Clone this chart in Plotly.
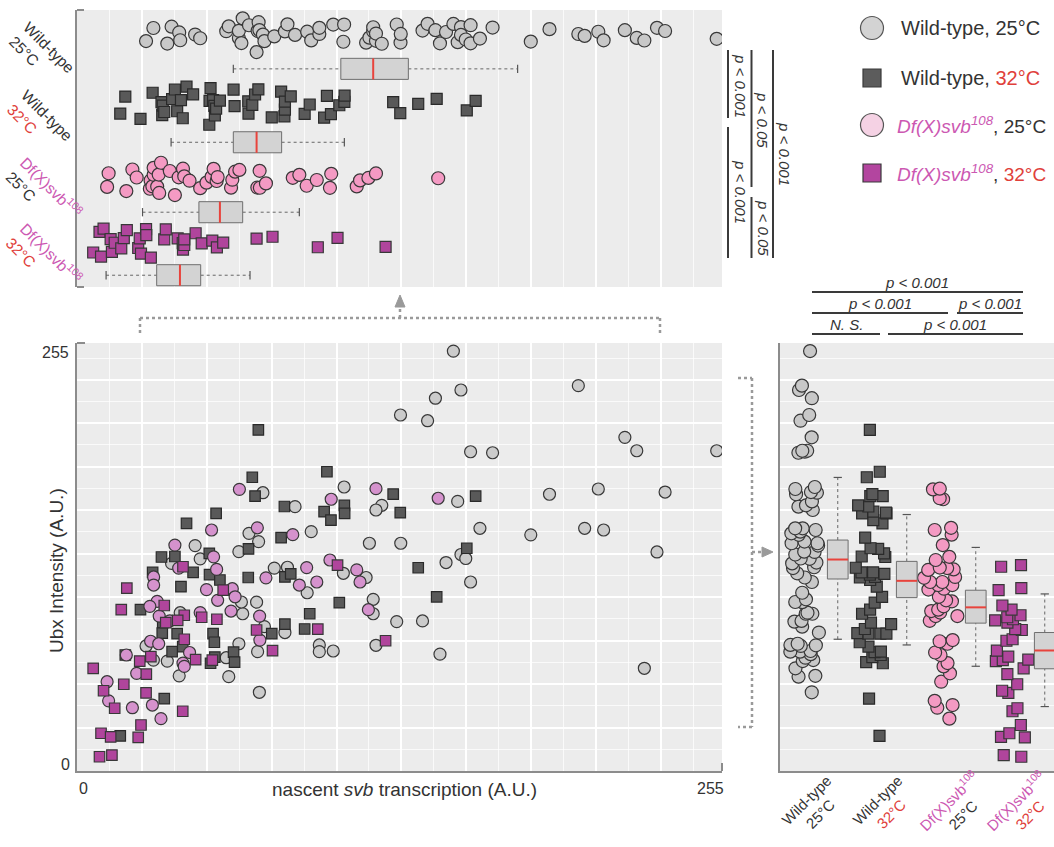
import plotly.graph_objects as go

# ---------------- data (A.U.) ----------------
wt25_svb = [148.8, 151.8, 141.7, 127.9, 138.6, 198.2, 216.6, 221.3, 252.9, 155.6,
            164.3, 186.8, 206.1, 232.5, 150.5, 120.5, 159.3, 179.4, 200.7, 208.2,
            128.0, 229.3, 145.9, 151.8, 153.7, 155.6, 126.4, 136.6, 143.5, 224.3,
            105.6, 118.2, 86.2, 73.5, 115.6, 92.6, 68.0, 71.8, 64.0, 46.7,
            48.7, 37.4, 78.0, 83.2, 105.3, 114.3, 91.0, 117.1, 117.1, 71.0,
            65.5, 65.0, 40.8, 64.0, 71.4, 74.1, 82.2, 95.8, 95.8, 101.3,
            118.2, 27.3, 30.2, 35.7, 40.4, 60.0, 59.0, 72.1]
wt25_ubx = [250.2, 227.0, 222.1, 212.1, 208.7, 229.6, 198.8, 190.8, 190.8, 190.2,
            189.6, 164.9, 168.0, 166.2, 160.6, 158.3, 144.6, 140.7, 144.6, 143.6,
            135.7, 130.5, 124.2, 129.0, 126.6, 112.6, 89.0, 89.4, 69.6, 61.2,
            169.2, 155.5, 157.5, 165.8, 135.7, 142.6, 141.6, 136.7, 130.7, 134.3,
            126.4, 123.7, 120.9, 121.4, 117.8, 115.3, 106.2, 102.3, 93.7, 100.6,
            93.7, 100.7, 94.3, 75.8, 71.1, 86.0, 82.5, 75.1, 71.1, 71.5,
            74.9, 74.5, 66.1, 65.5, 56.7, 56.2, 67.5, 46.9]

wt32_svb = [71.7, 69.3, 70.4, 98.8, 82.0, 55.0, 43.3, 97.7, 100.4, 105.7,
            105.8, 125.0, 127.8, 80.7, 67.8, 33.4, 38.7, 52.3, 45.9, 29.9,
            52.4, 56.5, 67.7, 82.2, 41.1, 103.7, 25.1, 92.0, 33.9, 82.2,
            33.7, 39.6, 90.0, 77.0, 53.8, 54.3, 41.8, 37.6, 54.5, 52.8,
            61.9, 62.3, 34.5, 17.1, 157.6, 154.1, 134.9, 142.2, 19.1, 84.5]
wt32_ubx = [203.2, 175.0, 163.8, 178.3, 157.6, 153.5, 147.5, 154.5, 149.5, 158.2,
            153.5, 165.0, 153.9, 139.0, 132.3, 127.5, 127.8, 129.7, 118.3, 118.3,
            117.0, 113.8, 115.3, 115.6, 109.8, 100.3, 96.1, 93.7, 88.4, 87.5,
            82.2, 81.8, 84.6, 81.8, 81.8, 76.7, 74.1, 71.1, 67.9, 64.2,
            70.8, 64.9, 43.1, 20.9, 163.8, 132.7, 121.1, 103.8, 69.1, 117.5]

df25_svb = [64.2, 100.5, 118.2, 53.2, 71.3, 85.3, 38.7, 40.2, 54.0, 55.2,
            30.3, 30.3, 51.2, 61.4, 62.5, 55.6, 60.9, 48.7, 31.7, 28.8,
            32.5, 36.7, 72.2, 72.3, 74.7, 90.8, 87.9, 94.8, 100.0, 110.6,
            111.9, 115.2, 29.1, 32.3, 44.5, 41.9, 42.4, 19.5, 23.6, 11.9,
            12.5, 21.9, 29.8, 33.2, 142.8]
df25_ubx = [167.8, 161.9, 168.2, 143.6, 144.9, 140.8, 134.6, 120.9, 127.6, 120.1,
            115.6, 110.8, 108.1, 108.6, 103.8, 101.7, 95.3, 94.4, 101.1, 98.1,
            92.3, 89.5, 92.3, 78.0, 115.1, 121.2, 110.8, 112.6, 125.7, 119.8,
            112.6, 96.1, 77.3, 75.8, 70.6, 64.3, 62.3, 69.1, 58.2, 53.2,
            41.8, 37.7, 39.3, 31.2, 162.5]

df32_svb = [103.0, 57.8, 19.7, 17.5, 34.5, 42.4, 35.1, 39.8, 49.3, 55.3,
            42.4, 71.0, 77.3, 95.2, 122.0, 46.9, 53.5, 29.2, 24.8, 27.4,
            6.4, 18.5, 10.5, 14.9, 27.3, 41.8, 25.3, 9.5, 13.3, 24.2,
            8.9, 13.8, 41.9]
df32_ubx = [122.6, 107.8, 108.9, 96.1, 98.6, 92.8, 88.4, 89.8, 91.6, 90.4,
            78.5, 84.0, 71.7, 84.5, 77.6, 66.3, 66.1, 68.1, 65.5, 57.7,
            61.2, 51.7, 47.8, 37.4, 46.6, 35.6, 27.4, 22.5, 20.3, 20.0,
            8.5, 9.5, 121.7]

# box statistics shown in the figure: [low whisker, Q1, median, Q3, high whisker]
svb_box_stats = [[61.8, 104.3, 117.1, 131.0, 174.2],
                 [37.2, 61.8, 71.0, 80.9, 105.7],
                 [25.9, 48.2, 56.5, 65.5, 87.9],
                 [11.5, 31.5, 40.7, 48.9, 68.4]]
ubx_box_stats = [[78.5, 114.4, 126.0, 137.6, 174.9],
                 [75.1, 103.3, 113.3, 124.9, 152.8],
                 [62.4, 88.1, 97.5, 107.7, 133.2],
                 [38.4, 60.9, 71.8, 82.5, 105.5]]

svb_groups = [wt25_svb, wt32_svb, df25_svb, df32_svb]
ubx_groups = [wt25_ubx, wt32_ubx, df25_ubx, df32_ubx]

# ---------------- styling / layout helpers ----------------
W, H = 1054, 847
FONT = "Liberation Sans, Arial, Helvetica, sans-serif"
TXT = "#333333"
RED = "#e0403a"
MAG = "#cc58b2"
BG = "#ececec"


def px(x):
    return x / W


def py(y):
    return 1 - y / H


EDGE = "#383838"
STRIP_STYLE = [
    dict(symbol="circle", size=13, color="#c8c8c8", line=dict(color=EDGE, width=1.2)),
    dict(symbol="square", size=11, color="#595959", line=dict(color="#2a2a2a", width=1.2)),
    dict(symbol="circle", size=13, color="#f49ac3", line=dict(color=EDGE, width=1.2)),
    dict(symbol="square", size=11, color="#b0459c", line=dict(color=EDGE, width=1.2)),
]
MAIN_STYLE = [
    dict(symbol="circle", size=12, color="#cbcbcb", line=dict(color=EDGE, width=1.2)),
    dict(symbol="square", size=10.5, color="#595959", line=dict(color="#2a2a2a", width=1.2)),
    dict(symbol="circle", size=12, color="#d592cd", line=dict(color=EDGE, width=1.2)),
    dict(symbol="square", size=10.5, color="#b0459c", line=dict(color=EDGE, width=1.2)),
]

TOP_PTS_POS = [0.36, 1.39, 2.47, 3.37]
TOP_PTS_WIDTH = [0.56, 0.66, 0.6, 0.52]
TOP_BOX_POS = [0.85, 1.91, 2.92, 3.83]
RIGHT_PTS_POS = [0, 1, 2, 3]
RIGHT_PTS_WIDTH = [0.62, 0.62, 0.62, 0.62]
RIGHT_BOX_POS = [0.46, 1.46, 2.46, 3.46]

fig = go.Figure()

# ---------------- main scatter ----------------
for i in range(4):
    fig.add_trace(go.Scatter(x=svb_groups[i], y=ubx_groups[i], mode="markers",
                             marker=MAIN_STYLE[i], xaxis="x2", yaxis="y2",
                             showlegend=False, hoverinfo="skip"))


def add_box(stats, c, hw, cap, xa, ya, horizontal):
    lo, q1, med, q3, hi = stats
    if horizontal:
        wx, wy = [lo, q1, None, q3, hi], [c, c, None, c, c]
        cx, cy = [lo, lo, None, hi, hi], [c - cap, c + cap, None, c - cap, c + cap]
        bx, by = [q1, q3, q3, q1, q1], [c - hw, c - hw, c + hw, c + hw, c - hw]
        mx, my = [med, med], [c - hw, c + hw]
    else:
        wy, wx = [lo, q1, None, q3, hi], [c, c, None, c, c]
        cy, cx = [lo, lo, None, hi, hi], [c - cap, c + cap, None, c - cap, c + cap]
        by, bx = [q1, q3, q3, q1, q1], [c - hw, c - hw, c + hw, c + hw, c - hw]
        my, mx = [med, med], [c - hw, c + hw]
    common = dict(xaxis=xa, yaxis=ya, showlegend=False, hoverinfo="skip", mode="lines")
    fig.add_trace(go.Scatter(x=wx, y=wy, line=dict(color="#666666", width=1, dash="dot"), **common))
    fig.add_trace(go.Scatter(x=cx, y=cy, line=dict(color="#555555", width=1.2), **common))
    fig.add_trace(go.Scatter(x=bx, y=by, fill="toself", fillcolor="#d3d3d3",
                             line=dict(color="#6e6e6e", width=1), **common))
    fig.add_trace(go.Scatter(x=mx, y=my, line=dict(color="#e8433c", width=2), **common))


# ---------------- top strip (svb) ----------------
for i in range(4):
    add_box(svb_box_stats[i], TOP_BOX_POS[i], 0.152, 0.06, "x", "y", True)
    fig.add_trace(go.Box(x=svb_groups[i], y0=TOP_PTS_POS[i], orientation="h", width=TOP_PTS_WIDTH[i],
                         boxpoints="all", jitter=1, pointpos=0,
                         fillcolor="rgba(0,0,0,0)", line=dict(width=0, color="rgba(0,0,0,0)"),
                         marker=STRIP_STYLE[i], xaxis="x", yaxis="y",
                         showlegend=False, hoverinfo="skip"))

# ---------------- right strip (Ubx) ----------------
for i in range(4):
    add_box(ubx_box_stats[i], RIGHT_BOX_POS[i], 0.15, 0.06, "x3", "y3", False)
    fig.add_trace(go.Box(y=ubx_groups[i], x0=RIGHT_PTS_POS[i], width=RIGHT_PTS_WIDTH[i],
                         boxpoints="all", jitter=1, pointpos=0,
                         fillcolor="rgba(0,0,0,0)", line=dict(width=0, color="rgba(0,0,0,0)"),
                         marker=STRIP_STYLE[i], xaxis="x3", yaxis="y3",
                         showlegend=False, hoverinfo="skip"))

# ---------------- axes ----------------
grid_major = dict(showgrid=True, gridcolor="#ffffff", gridwidth=1.6)
x_grid = dict(tickmode="linear", tick0=0, dtick=25.65,
              minor=dict(tick0=0, dtick=12.825, showgrid=True,
                         gridcolor="rgba(255,255,255,0.75)", gridwidth=1), **grid_major)
y_grid = dict(tickmode="linear", tick0=0, dtick=25.9,
              minor=dict(tick0=0, dtick=12.95, showgrid=True,
                         gridcolor="rgba(255,255,255,0.75)", gridwidth=1), **grid_major)
noticks = dict(showticklabels=False, ticks="", zeroline=False, fixedrange=True)
AXL = dict(showline=True, linecolor="#8c8c8c", linewidth=2)

fig.update_layout(
    width=W, height=H, margin=dict(l=0, r=0, t=0, b=0),
    paper_bgcolor="white", plot_bgcolor=BG, showlegend=False, boxmode="overlay",
    font=dict(family=FONT, color=TXT),
    xaxis=dict(domain=[px(77), px(722)], range=[0, 255], anchor="y", **x_grid, **noticks),
    yaxis=dict(domain=[py(287), py(10)], range=[4.0, 0], anchor="x", type="linear",
               showgrid=False, **AXL, **noticks),
    xaxis2=dict(domain=[px(77), px(722)], range=[0, 255], anchor="y2", **x_grid, **AXL, **noticks),
    yaxis2=dict(domain=[py(771), py(343)], range=[0, 255], anchor="x2", **y_grid, **AXL, **noticks),
    xaxis3=dict(domain=[px(780), 1.0], range=[-0.377, 3.594], anchor="y3", type="linear",
                showgrid=False, **AXL, **noticks),
    yaxis3=dict(domain=[py(771), py(343)], range=[0, 255], anchor="x3", **y_grid, **AXL, **noticks),
)

# ---------------- shapes ----------------
shapes = []


def line(x0, y0, x1, y1, color="#3a3a3a", width=2, dash=None):
    d = dict(type="line", xref="paper", yref="paper", x0=px(x0), y0=py(y0), x1=px(x1), y1=py(y1),
             line=dict(color=color, width=width))
    if dash:
        d["line"]["dash"] = dash
    shapes.append(d)


# axis end ticks
line(77, 10, 84, 10, "#8c8c8c", 2)
line(77, 287, 84, 287, "#8c8c8c", 2)
line(77, 343, 85, 343, "#8c8c8c", 2)
line(722, 771, 722, 763, "#8c8c8c", 2)

# p-value brackets on the top strip (vertical)
line(728, 50, 728, 118)
line(728, 127, 728, 258)
line(751.5, 50, 751.5, 187)
line(751.5, 197, 751.5, 258)
line(773, 50, 773, 258)

# p-value brackets over the right strip
line(812, 292, 1023, 292)
line(812, 313, 948, 313)
line(957, 313, 1023, 313)
line(812, 334, 880, 334)
line(888, 334, 1023, 334)

# dotted connectors
DOT = "#9a9a9a"
line(140, 333, 140, 318, DOT, 2.5, "dot")
line(140, 318, 660, 318, DOT, 2.5, "dot")
line(660, 318, 660, 333, DOT, 2.5, "dot")
line(400, 318, 400, 306, DOT, 2.5, "dot")
shapes.append(dict(type="path", xref="paper", yref="paper",
                   path=f"M {px(395)} {py(307)} L {px(405)} {py(307)} L {px(400)} {py(295)} Z",
                   fillcolor=DOT, line=dict(color=DOT, width=1)))
line(738, 378, 752, 378, DOT, 2.5, "dot")
line(752, 378, 752, 727, DOT, 2.5, "dot")
line(752, 727, 738, 727, DOT, 2.5, "dot")
line(752, 552, 763, 552, DOT, 2.5, "dot")
shapes.append(dict(type="path", xref="paper", yref="paper",
                   path=f"M {px(762)} {py(547)} L {px(762)} {py(557)} L {px(773)} {py(552)} Z",
                   fillcolor=DOT, line=dict(color=DOT, width=1)))

# legend symbols
LEG_Y = [28, 78, 125, 173]
LEG_FILL = ["#d3d3d3", "#5c5c5c", "#f5d2e4", "#b3459f"]
for k in range(4):
    if k in (0, 2):
        r = 11.5
        shapes.append(dict(type="circle", xref="paper", yref="paper",
                           x0=px(872 - r), x1=px(872 + r), y0=py(LEG_Y[k] + r), y1=py(LEG_Y[k] - r),
                           fillcolor=LEG_FILL[k], line=dict(color="#555555", width=1.2)))
    else:
        r = 9
        shapes.append(dict(type="rect", xref="paper", yref="paper",
                           x0=px(872 - r), x1=px(872 + r), y0=py(LEG_Y[k] + r), y1=py(LEG_Y[k] - r),
                           fillcolor=LEG_FILL[k], line=dict(color="#3a3a3a", width=1.2)))

fig.update_layout(shapes=shapes)

# ---------------- annotations ----------------
ann = []


def text(x, y, s, size=16, angle=0, xanchor="center", yanchor="middle", align="center", color=TXT):
    ann.append(dict(x=px(x), y=py(y), xref="paper", yref="paper", text=s, showarrow=False,
                    textangle=angle, xanchor=xanchor, yanchor=yanchor, align=align,
                    font=dict(family=FONT, size=size, color=color)))


svb_lbl = f"<span style='color:{MAG}'>Df(X)svb<sup>108</sup></span>"
svb_lbl_i = f"<i><span style='color:{MAG}'>Df(X)svb<sup>108</sup></span></i>"
red32 = f"<span style='color:{RED}'>32°C</span>"

# legend texts
text(899, 28, "Wild-type, 25°C", 20, xanchor="left")
text(899, 78, f"Wild-type, {red32}", 20, xanchor="left")
text(895, 125, f"{svb_lbl_i}, 25°C", 19, xanchor="left")
text(895, 173, f"{svb_lbl_i}, {red32}", 19, xanchor="left")

# row labels for the top strip
TOP_LABELS = ["Wild-type<br>25°C", f"Wild-type<br>{red32}", f"{svb_lbl}<br>25°C", f"{svb_lbl}<br>{red32}"]
TOP_LABEL_POS = [(42, 54), (40, 122), (44, 194), (44, 260)]
for s, (x, y) in zip(TOP_LABELS, TOP_LABEL_POS):
    text(x, y, s, 15.5, angle=45, align="left")

# category labels for the right strip
RIGHT_LABEL_POS = [(813, 807), (884, 807), (955, 807), (1022, 807)]
for s, (x, y) in zip(TOP_LABELS, RIGHT_LABEL_POS):
    text(x, y, s, 15, angle=-45, align="center")

# p-values (vertical)
P1 = "<i>p &lt; 0.001</i>"
P5 = "<i>p &lt; 0.05</i>"
text(740, 86, P1, 15, angle=90)
text(740, 192, P1, 15, angle=90)
text(763, 120, P5, 15, angle=90)
text(763, 228, P5, 15, angle=90)
text(785, 154, P1, 15, angle=90)

# p-values (horizontal)
text(917, 282, P1, 15)
text(880, 303, P1, 15)
text(990, 303, P1, 15)
text(846, 324, "<i>N. S.</i>", 15)
text(955, 324, P1, 15)

# axis labels
text(71, 352, "255", 16, xanchor="right")
text(72, 764, "0", 16, xanchor="right")
text(83, 788, "0", 16)
text(710, 788, "255", 16)
text(404, 789, "nascent <i>svb</i> transcription (A.U.)", 19)
text(56, 571, "Ubx Intensity (A.U.)", 19, angle=-90)

fig.update_layout(annotations=ann)

fig.write_html("out.html", config={"displayModeBar": False},
               post_script="document.body.style.margin='0px';document.body.style.overflow='hidden';")
